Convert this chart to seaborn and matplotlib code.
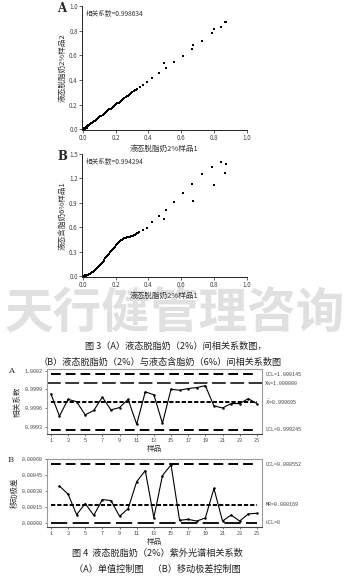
import matplotlib
matplotlib.use("Agg")
import matplotlib.pyplot as plt
import seaborn as sns
import pandas as pd
from matplotlib.ticker import MultipleLocator

sns.set_style("white")
plt.rcParams['font.family'] = ['Noto Sans CJK SC', 'DejaVu Sans']
plt.rcParams['axes.unicode_minus'] = False

# ---------------- Fig 3A data: skim milk 2% sample1 vs sample2 ----------------
a_x = [0.003, 0.005, 0.008, 0.010, 0.012, 0.015, 0.018, 0.020, 0.021, 0.025, 0.028, 0.029,
       0.033, 0.038, 0.043, 0.048, 0.054, 0.060, 0.066, 0.072, 0.078, 0.085, 0.092,
       0.099, 0.106, 0.113, 0.120, 0.127, 0.134, 0.141, 0.148, 0.155, 0.162, 0.169,
       0.176, 0.183, 0.190, 0.197, 0.204, 0.211, 0.218, 0.225, 0.232, 0.239, 0.246,
       0.253, 0.260, 0.267, 0.274, 0.281, 0.288, 0.295, 0.302, 0.309, 0.316, 0.323,
       0.330, 0.349, 0.364, 0.390, 0.424, 0.465, 0.497, 0.507, 0.556, 0.610, 0.663,
       0.671, 0.723, 0.786, 0.796, 0.840, 0.865, 0.873]
a_y = [0.002, 0.000, 0.005, 0.009, 0.002, 0.013, 0.014, 0.008, 0.020, 0.024, 0.015, 0.029,
       0.034, 0.037, 0.043, 0.049, 0.053, 0.060, 0.066, 0.071, 0.078, 0.085, 0.091,
       0.099, 0.106, 0.112, 0.120, 0.127, 0.133, 0.141, 0.148, 0.154, 0.162, 0.169,
       0.175, 0.183, 0.190, 0.196, 0.204, 0.211, 0.217, 0.225, 0.232, 0.238, 0.246,
       0.253, 0.259, 0.267, 0.274, 0.280, 0.288, 0.295, 0.301, 0.309, 0.316, 0.322,
       0.330, 0.340, 0.357, 0.386, 0.416, 0.456, 0.534, 0.496, 0.544, 0.598, 0.654,
       0.686, 0.716, 0.780, 0.815, 0.828, 0.871, 0.869]

# ---------------- Fig 3B data: skim 2% sample1 vs whole 6% sample1 ----------------
b_x = [0.002, 0.006, 0.010, 0.012, 0.015, 0.020, 0.022, 0.025, 0.030, 0.036, 0.042, 0.048,
       0.054, 0.060, 0.066, 0.072, 0.078, 0.084, 0.090, 0.096, 0.102, 0.108, 0.114,
       0.120, 0.126, 0.132, 0.138, 0.144, 0.150, 0.156, 0.162, 0.168, 0.174, 0.180,
       0.186, 0.192, 0.198, 0.204, 0.210, 0.216, 0.222, 0.228, 0.234, 0.240, 0.246,
       0.252, 0.258, 0.264, 0.270, 0.276, 0.282, 0.288, 0.294, 0.300, 0.306, 0.312,
       0.318, 0.324, 0.330, 0.336, 0.342, 0.364, 0.392, 0.424, 0.465, 0.497, 0.507,
       0.556, 0.610, 0.667, 0.671, 0.723, 0.786, 0.796, 0.840, 0.869, 0.873]
b_y = [0.002, 0.003, 0.004, 0.012, 0.006, 0.010, 0.002, 0.014, 0.018, 0.024, 0.032, 0.040,
       0.048, 0.056, 0.064, 0.075, 0.086, 0.098, 0.110, 0.123, 0.137, 0.150, 0.164,
       0.178, 0.192, 0.206, 0.220, 0.235, 0.250, 0.264, 0.279, 0.293, 0.308, 0.322,
       0.337, 0.351, 0.366, 0.380, 0.394, 0.407, 0.420, 0.432, 0.443, 0.452, 0.459,
       0.465, 0.470, 0.474, 0.478, 0.481, 0.484, 0.487, 0.491, 0.495, 0.500, 0.506,
       0.513, 0.520, 0.528, 0.537, 0.546, 0.563, 0.595, 0.669, 0.734, 0.701, 0.815,
       0.913, 1.019, 1.137, 0.921, 1.252, 1.345, 1.125, 1.398, 1.272, 1.378]

# ---------------- Fig 4 data: individual values and moving ranges ----------------
samples = list(range(1, 26))
indiv = [0.999828, 0.999469, 0.999738, 0.999701, 0.999489, 0.999559, 0.999774,
         0.999568, 0.999606, 0.999738, 0.999337, 0.999859, 0.999812, 0.999353,
         0.999901, 0.999885, 0.999912, 0.999928, 0.999959, 0.999632, 0.999600,
         0.999670, 0.999670, 0.999749, 0.999670]
mr_samples = list(range(2, 26))
mrange = [0.000346, 0.000270, 0.000076, 0.000181, 0.000070, 0.000218, 0.000209,
          0.000061, 0.000133, 0.000387, 0.000491, 0.000048, 0.000444, 0.000545,
          0.000023, 0.000032, 0.000016, 0.000045, 0.000323, 0.000016, 0.000073,
          0.000016, 0.000083, 0.000089]
ind_limits = [1.000145, 1.000000, 0.999695, 0.999245]
ind_limit_labels = ["UCL=1.000145", "Xa=1.000000", r"$\bar{X}$=0.999695", "LCL=0.999245"]
mr_limits = [0.000552, 0.000169, 0.0]
mr_limit_labels = ["UCL=0.000552", "MR=0.000169", "LCL=0"]
ind_ticks = [0.9993, 0.9996, 0.9999, 1.0002]
mr_ticks = [0.0, 0.00015, 0.00030, 0.00045, 0.00060]
x_ticks = [1, 3, 5, 7, 9, 11, 13, 15, 17, 19, 21, 23, 25]

W, H = 349, 586
fig = plt.figure(figsize=(W / 100, H / 100), dpi=100)
fig.patch.set_facecolor("white")

def rect(x0, y0, x1, y1):
    return [x0 / W, 1 - y1 / H, (x1 - x0) / W, (y1 - y0) / H]

def style_scatter(ax, ymax, ystep, yminor):
    ax.set_xlim(-0.005, 1.0)
    ax.set_ylim(-0.005 * ymax, ymax)
    ax.xaxis.set_major_locator(MultipleLocator(0.2))
    ax.xaxis.set_minor_locator(MultipleLocator(0.1))
    ax.yaxis.set_major_locator(MultipleLocator(ystep))
    ax.yaxis.set_minor_locator(MultipleLocator(yminor))
    ax.xaxis.set_major_formatter(matplotlib.ticker.FormatStrFormatter('%.1f'))
    ax.yaxis.set_major_formatter(matplotlib.ticker.FormatStrFormatter('%.1f'))
    for s in ["top", "right"]:
        ax.spines[s].set_visible(False)
    for s in ["left", "bottom"]:
        ax.spines[s].set_color("#222222")
        ax.spines[s].set_linewidth(0.7)
    ax.tick_params(which="major", direction="out", length=2, width=0.5, labelsize=4.5,
                   labelcolor="#444444", pad=1, color="#222222")
    ax.tick_params(which="minor", direction="out", length=1.2, width=0.4, color="#222222")
    ax.tick_params(axis="x", bottom=True)
    ax.tick_params(axis="y", left=True)
    ax.set_facecolor("none")

# ---- Fig 3A
ax1 = fig.add_axes(rect(82, 6, 247, 130))
sns.scatterplot(x=a_x, y=a_y, ax=ax1, marker="s", s=3.2, color="black", linewidth=0)
style_scatter(ax1, 1.0, 0.2, 0.1)
ax1.set_xlabel("液态脱脂奶2%样品1", fontsize=5.5, labelpad=2, color="#333333")
ax1.set_ylabel("液态脱脂奶2%样品2", fontsize=5.5, labelpad=2, color="#333333")
ax1.text(0.02, 0.97, "相关系数=0.998634", transform=ax1.transAxes, fontsize=4.8,
         va="top", color="#333333")
fig.text(62 / W, 1 - 9 / H, "A", fontsize=8.5, fontweight="bold", family="DejaVu Serif",
         va="center", ha="center")

# ---- Fig 3B
ax2 = fig.add_axes(rect(82, 154, 247, 277))
sns.scatterplot(x=b_x, y=b_y, ax=ax2, marker="s", s=3.2, color="black", linewidth=0)
style_scatter(ax2, 1.5, 0.3, 0.15)
ax2.set_xlabel("液态脱脂奶2%样品1", fontsize=5.5, labelpad=2, color="#333333")
ax2.set_ylabel("液态含脂奶6%样品1", fontsize=5.5, labelpad=2, color="#333333")
ax2.text(0.02, 0.97, "相关系数=0.994294", transform=ax2.transAxes, fontsize=4.8,
         va="top", color="#333333")
fig.text(62 / W, 1 - 157 / H, "B", fontsize=8.5, fontweight="bold", family="DejaVu Serif",
         va="center", ha="center")

# ---- watermark
fig.text(0.5, 1 - 314 / H, "天行健管理咨询", fontsize=35, fontweight="bold",
         color="#e0e0e0", ha="center", va="center", zorder=-5)

# ---- captions
cap_kw = dict(fontsize=6.6, ha="center", va="center", color="#222222")
fig.text(176 / W, 1 - 346 / H, "图 3（A）液态脱脂奶（2%）间相关系数图，", **cap_kw)
fig.text(160 / W, 1 - 362 / H, "（B）液态脱脂奶（2%）与液态含脂奶（6%）间相关系数图", **cap_kw)
fig.text(157 / W, 1 - 553 / H, "图 4  液态脱脂奶（2%）紫外光谱相关系数", **cap_kw)
fig.text(157 / W, 1 - 569 / H, "（A）单值控制图　（B）移动极差控制图", **cap_kw)

mono = "Liberation Mono"

def style_ctrl(ax):
    ax.set_xlim(0.55, 25.6)
    ax.set_xticks(x_ticks)
    for s in ["top", "right", "left"]:
        ax.spines[s].set_color("#9a9a9a")
        ax.spines[s].set_linewidth(0.8)
    ax.spines["bottom"].set_color("#444444")
    ax.spines["bottom"].set_linewidth(0.8)
    ax.tick_params(direction="out", length=1.5, width=0.5, labelsize=3.6,
                   labelcolor="#444444", pad=1.5, color="#444444")
    for lab in ax.get_xticklabels() + ax.get_yticklabels():
        lab.set_family(mono)
    ax.tick_params(axis="x", bottom=True)
    ax.tick_params(axis="y", left=True)

short_dash = (0, (5, 2.6))
long_dash = (0, (9, 3))
dots = (0, (2.2, 1.0))

# ---- Fig 4A individuals chart
ax3 = fig.add_axes(rect(47, 369, 262, 434))
df3 = pd.DataFrame({"样品": samples, "相关系数": indiv})
sns.lineplot(data=df3, x="样品", y="相关系数", ax=ax3, color="black", linewidth=0.8,
             marker="o", markersize=1.8, markeredgewidth=0)
ax3.hlines(ind_limits[0], 1, 25, colors="black", linestyles=short_dash, linewidth=1.4)
ax3.axhline(ind_limits[1], color="black", linestyle=long_dash, linewidth=1.1)
ax3.hlines(ind_limits[2], 1, 25, colors="black", linestyles=dots, linewidth=1.4)
ax3.hlines(ind_limits[3], 1, 25, colors="black", linestyles=short_dash, linewidth=1.4)
ax3.set_ylim(0.99918, 1.000227)
ax3.set_yticks(ind_ticks)
ax3.set_yticklabels([f"{t:.4f}" for t in ind_ticks])
style_ctrl(ax3)
ax3.set_xlabel("样品", fontsize=5.5, labelpad=1.5, color="#333333")
ax3.set_ylabel("相关系数", fontsize=5.5, labelpad=2, color="#333333")
for v, lab in zip(ind_limits, ind_limit_labels):
    ax3.text(1.015, v, lab, transform=ax3.get_yaxis_transform(), fontsize=3.6,
             family=mono, va="center", color="#444444", clip_on=False)
fig.text(11 / W, 1 - 371 / H, "A", fontsize=6, family="DejaVu Serif", va="center",
         ha="center", color="#333333")

# ---- Fig 4B moving range chart
ax4 = fig.add_axes(rect(47, 459, 262, 527))
df4 = pd.DataFrame({"样品": mr_samples, "移动极差": mrange})
sns.lineplot(data=df4, x="样品", y="移动极差", ax=ax4, color="black", linewidth=0.8,
             marker="o", markersize=1.8, markeredgewidth=0)
ax4.hlines(mr_limits[0], 1, 25, colors="black", linestyles=short_dash, linewidth=1.4)
ax4.hlines(mr_limits[1], 1, 25, colors="black", linestyles=dots, linewidth=1.4)
ax4.hlines(mr_limits[2], 1, 25, colors="black", linestyles=long_dash, linewidth=1.3)
ax4.set_ylim(-0.00004, 0.0006)
ax4.set_yticks(mr_ticks)
ax4.set_yticklabels([f"{t:.5f}" for t in mr_ticks])
style_ctrl(ax4)
ax4.set_xlabel("样品", fontsize=5.5, labelpad=1.5, color="#333333")
ax4.set_ylabel("移动极差", fontsize=5.5, labelpad=2, color="#333333")
for v, lab in zip(mr_limits, mr_limit_labels):
    ax4.text(1.015, v, lab, transform=ax4.get_yaxis_transform(), fontsize=3.6,
             family=mono, va="center", color="#444444", clip_on=False)
fig.text(11 / W, 1 - 460 / H, "B", fontsize=6, family="DejaVu Serif", va="center",
         ha="center", color="#333333")

fig.savefig("out.png", dpi=100, facecolor="white")
